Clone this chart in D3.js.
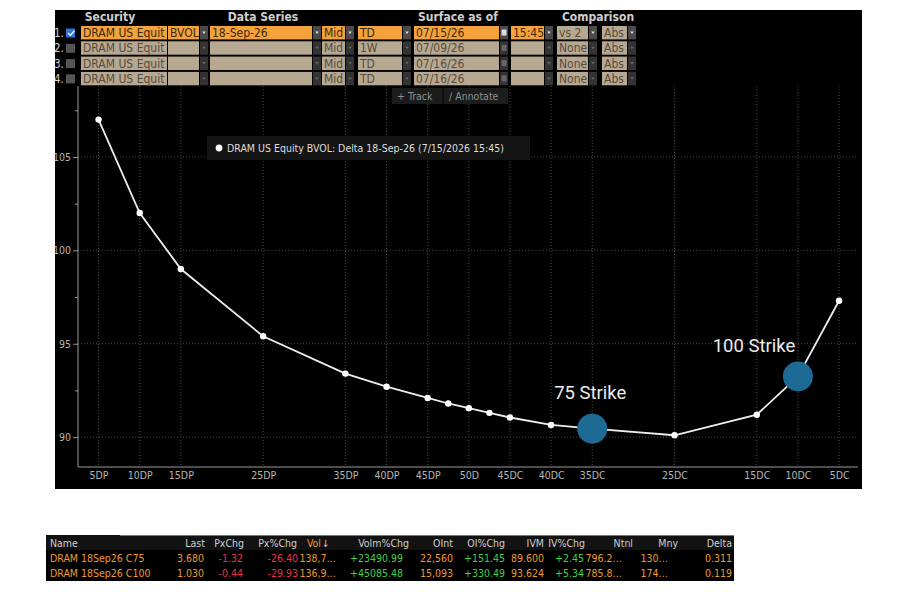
<!DOCTYPE html>
<html>
<head>
<meta charset="utf-8">
<script src="https://cdn.jsdelivr.net/npm/d3@7"></script>
<style>
body { margin: 0; background: #fff; }
svg text { font-family: "DejaVu Sans Condensed", "DejaVu Sans", sans-serif; font-stretch: condensed; }
</style>
</head>
<body>
<svg id="svg" width="900" height="594"></svg>
<script>
// ---- smile data (BVOL delta surface, 18-Sep-26 expiry)
const tickDeltas = [5, 10, 15, 25, 35, 40, 45, 50, 55, 60, 65, 75, 85, 90, 95];
const tickLabels = ["5DP", "10DP", "15DP", "25DP", "35DP", "40DP", "45DP", "50D", "45DC", "40DC", "35DC", "25DC", "15DC", "10DC", "5DC"];
const pointDeltas = [5, 10, 15, 25, 35, 40, 45, 47.5, 50, 52.5, 55, 60, 65, 75, 85, 90, 95];
const vols = [107.0, 102.0, 99.0, 95.4, 93.4, 92.7, 92.1, 91.8, 91.55, 91.3, 91.05, 90.65, 90.45, 90.1, 91.2, 93.25, 97.3];
const yMajor = [90, 95, 100, 105];
const yMinor = [92.5, 97.5, 102.5, 107.5];

const strikeNames = ["75 Strike", "100 Strike"];
const strikeDeltas = [65, 90];
const strikeVols = [90.45, 93.25];

const legendText = "DRAM US Equity BVOL: Delta 18-Sep-26 (7/15/2026 15:45)";

// ---- top control table
const headers = ["Security", "Data Series", "Surface as of", "Comparison"];
const secCol = ["DRAM US Equit", "DRAM US Equit", "DRAM US Equit", "DRAM US Equit"];
const fieldCol = ["BVOL", "", "", ""];
const expiryCol = ["18-Sep-26", "", "", ""];
const sideCol = ["Mid", "Mid", "Mid", "Mid"];
const periodCol = ["TD", "1W", "TD", "TD"];
const dateCol = ["07/15/26", "07/09/26", "07/16/26", "07/16/26"];
const timeCol = ["15:45", "", "", ""];
const compCol = ["vs 2", "None", "None", "None"];
const modeCol = ["Abs", "Abs", "Abs", "Abs"];

// ---- bottom option monitor
const optHeaders = ["Name", "Last", "PxChg", "Px%Chg", "Vol", "Volm%Chg", "OInt", "OI%Chg", "IVM", "IV%Chg", "Ntnl", "Mny", "Delta"];
const optNames = ["DRAM 18Sep26 C75", "DRAM 18Sep26 C100"];
const optLast = ["3.680", "1.030"];
const optPxChg = ["-1.32", "-0.44"];
const optPxPct = ["-26.40", "-29.93"];
const optVol = ["138,7\u2026", "136,9\u2026"];
const optVolmPct = ["+23490.99", "+45085.48"];
const optOInt = ["22,560", "15,093"];
const optOIPct = ["+151.45", "+330.49"];
const optIVM = ["89.600", "93.624"];
const optIVPct = ["+2.45", "+5.34"];
const optNtnl = ["796.2\u2026", "785.8\u2026"];
const optMny = ["130\u2026", "174\u2026"];
const optDelta = ["0.311", "0.119"];

var svg = d3.select("svg");
var orange = "#f5a23a", tan = "#b7a892", gridc = "#4a4a4a";

// black terminal panel
svg.append("defs").append("clipPath").attr("id", "panelclip")
  .append("rect").attr("x", 55).attr("y", 10).attr("width", 807).attr("height", 479);
svg.append("rect").attr("x", 55).attr("y", 10).attr("width", 807).attr("height", 479).attr("fill", "#000");
var panel = svg.append("g").attr("clip-path", "url(#panelclip)");

var pl = 78, pr = 858, pt = 86, pb = 467;
var x = d3.scaleLinear().domain([2.5, 97.3]).range([pl, pr]);
var y = d3.scaleLinear().domain([88.4, 108.8]).range([pb, pt]);

// grid
var grid = panel.append("g");
grid.selectAll(".vg").data(tickDeltas).join("line")
  .attr("x1", d => x(d)).attr("x2", d => x(d)).attr("y1", pt).attr("y2", pb)
  .attr("stroke", gridc).attr("stroke-dasharray", "1,2");
grid.selectAll(".hg").data(yMajor).join("line")
  .attr("x1", pl).attr("x2", pr).attr("y1", d => y(d)).attr("y2", d => y(d))
  .attr("stroke", gridc).attr("stroke-dasharray", "1,2");

// axes
panel.append("g").attr("transform", "translate(" + pl + ",0)")
  .call(d3.axisLeft(y).tickValues(yMajor).tickSize(5).tickPadding(2).tickFormat(d3.format("d")));
panel.append("g").attr("transform", "translate(" + pl + ",0)")
  .call(d3.axisLeft(y).tickValues(yMinor).tickSize(3).tickFormat(""));
panel.append("g").attr("transform", "translate(0," + pb + ")")
  .call(d3.axisBottom(x).tickValues(tickDeltas).tickSize(0).tickPadding(5).tickFormat((d, i) => tickLabels[i]));
panel.selectAll(".domain").remove();
panel.append("line").attr("x1", pl).attr("x2", pl).attr("y1", pt).attr("y2", pb).attr("stroke", "#9a9a9a");
panel.append("line").attr("x1", pl).attr("x2", pr).attr("y1", pb).attr("y2", pb).attr("stroke", "#9a9a9a");
panel.selectAll(".tick line").attr("stroke", "#9a9a9a");
panel.selectAll(".tick text").attr("fill", "#b5b5b5").style("font-size", "10.5px");

// the smile
var pts = pointDeltas.map((d, i) => [d, vols[i]]);
panel.append("path").datum(pts)
  .attr("d", d3.line().x(d => x(d[0])).y(d => y(d[1])))
  .attr("fill", "none").attr("stroke", "#eeeeee").attr("stroke-width", 1.8);
panel.selectAll(".pt").data(pts).join("circle")
  .attr("cx", d => x(d[0])).attr("cy", d => y(d[1])).attr("r", 3.2).attr("fill", "#fff");

// legend
var lg = panel.append("g");
lg.append("rect").attr("x", 207).attr("y", 136).attr("width", 323).attr("height", 24).attr("fill", "#141414");
lg.append("circle").attr("cx", 219).attr("cy", 148).attr("r", 3.4).attr("fill", "#fff");
lg.append("text").attr("x", 227).attr("y", 152).text(legendText)
  .attr("fill", "#dddddd").style("font-size", "10.5px");

// strike markers
var labelOff = [[-2, -30], [-44, -24]];
strikeNames.forEach((s, i) => {
  var cx = x(strikeDeltas[i]), cy = y(strikeVols[i]);
  panel.append("circle").attr("cx", cx).attr("cy", cy).attr("r", 15).attr("fill", "#1d6a94");
  panel.append("text").attr("x", cx + labelOff[i][0]).attr("y", cy + labelOff[i][1])
    .attr("text-anchor", "middle").text(s)
    .attr("fill", "#ececec")
    .style("font-family", "Roboto, 'Noto Sans', sans-serif").style("font-stretch", "normal")
    .style("font-size", "18.5px");
});

// ---- top control table
var hdrX = [110, 263, 458, 598];
headers.forEach((h, i) => {
  panel.append("text").attr("x", hdrX[i]).attr("y", 21).attr("text-anchor", "middle")
    .text(h).attr("fill", "#cfcfcf").style("font-size", "12px").style("font-weight", "bold");
});

var cells = [
  { vals: secCol, x0: 81, x1: 167, arrow: 0, hot: true },
  { vals: fieldCol, x0: 168, x1: 199, arrow: 1, hot: true },
  { vals: expiryCol, x0: 210, x1: 312, arrow: 1, hot: true },
  { vals: sideCol, x0: 322, x1: 345, arrow: 1, hot: true },
  { vals: periodCol, x0: 358, x1: 402, arrow: 1, hot: true },
  { vals: dateCol, x0: 414, x1: 499, arrow: 2, hot: true },
  { vals: timeCol, x0: 511, x1: 544, arrow: 1, hot: true },
  { vals: compCol, x0: 557, x1: 588, arrow: 1, hot: false },
  { vals: modeCol, x0: 602, x1: 627, arrow: 1, hot: false }
];
var rowY = [26, 41.3, 56.6, 71.9], rowH = 13.4;

rowY.forEach((ry, r) => {
  panel.append("text").attr("x", 54).attr("y", ry + 11).text((r + 1) + ".")
    .attr("fill", "#cfcfcf").style("font-size", "11.5px");
  panel.append("rect").attr("x", 66).attr("y", ry + 2.5).attr("width", 9).attr("height", 9)
    .attr("fill", r === 0 ? "#2f74d6" : "#555");
  if (r === 0) {
    panel.append("path").attr("d", "M68," + (ry + 7) + " l2.4,2.4 l4,-4.6")
      .attr("fill", "none").attr("stroke", "#fff").attr("stroke-width", 1.3);
  }
  cells.forEach(c => {
    var hot = r === 0 && c.hot;
    panel.append("rect").attr("x", c.x0).attr("y", ry).attr("width", c.x1 - c.x0).attr("height", rowH)
      .attr("fill", hot ? orange : tan);
    panel.append("text").attr("x", c.x0 + 2).attr("y", ry + 11).text(c.vals[r])
      .attr("fill", hot ? "#3a2a12" : "#574b3b").style("font-size", "12px");
    if (c.arrow) {
      var ax = c.x1 + 1;
      panel.append("rect").attr("x", ax).attr("y", ry).attr("width", 8).attr("height", rowH)
        .attr("fill", r === 0 ? "#4a4a4a" : "#333");
      if (c.arrow === 1) {
        panel.append("path").attr("d", "M" + (ax + 2.2) + "," + (ry + 5.5) + " h3.6 l-1.8,2.4 z")
          .attr("fill", r === 0 ? "#ddd" : "#666");
      } else {
        panel.append("rect").attr("x", ax + 1.5).attr("y", ry + 3.5).attr("width", 5).attr("height", 6)
          .attr("fill", r === 0 ? "#ddd" : "#666");
      }
    }
  });
});

// track / annotate
panel.append("rect").attr("x", 392).attr("y", 88).attr("width", 116).attr("height", 16).attr("fill", "#1c1c1c");
panel.append("line").attr("x1", 443).attr("x2", 443).attr("y1", 88).attr("y2", 104).attr("stroke", "#000");
panel.append("text").attr("x", 397).attr("y", 99.5).text("+  Track").attr("fill", "#8e8e8e").style("font-size", "10.5px");
panel.append("text").attr("x", 449).attr("y", 99.5).text("\u2215  Annotate").attr("fill", "#8e8e8e").style("font-size", "10.5px");

// ---- bottom option monitor
var red = "#e8334d", green = "#3fd04c", oc = "#ee9a2c";
var optCols = [
  { vals: optNames, hx: 50, vx: 50, a: "start", c: oc },
  { vals: optLast, hx: 205, vx: 204, a: "end", c: oc },
  { vals: optPxChg, hx: 244, vx: 243, a: "end", c: red },
  { vals: optPxPct, hx: 297, vx: 298, a: "end", c: red },
  { vals: optVol, hx: 321, vx: 336, a: "end", c: oc },
  { vals: optVolmPct, hx: 409, vx: 403, a: "end", c: green },
  { vals: optOInt, hx: 453, vx: 453, a: "end", c: oc },
  { vals: optOIPct, hx: 505, vx: 505, a: "end", c: green },
  { vals: optIVM, hx: 544, vx: 544, a: "end", c: oc },
  { vals: optIVPct, hx: 585, vx: 584, a: "end", c: green },
  { vals: optNtnl, hx: 633, vx: 622, a: "end", c: oc },
  { vals: optMny, hx: 678, vx: 668, a: "end", c: oc },
  { vals: optDelta, hx: 732, vx: 732, a: "end", c: oc }
];
svg.append("rect").attr("x", 46).attr("y", 535).attr("width", 688).attr("height", 46).attr("fill", "#000");
svg.append("rect").attr("x", 46).attr("y", 535).attr("width", 688).attr("height", 15).attr("fill", "#121212");
svg.append("line").attr("x1", 120).attr("x2", 734).attr("y1", 535.5).attr("y2", 535.5).attr("stroke", "#777");
optCols.forEach((c, i) => {
  svg.append("text").attr("x", c.hx).attr("y", 547).attr("text-anchor", c.a)
    .text(optHeaders[i]).attr("fill", i === 4 ? oc : "#cfcfcf").style("font-size", "10.5px");
  c.vals.forEach((v, r) => {
    svg.append("text").attr("x", c.vx).attr("y", 562 + r * 15).attr("text-anchor", c.a)
      .text(v).attr("fill", c.c).style("font-size", "10.5px");
  });
});
// sort arrow beside Vol
svg.append("text").attr("x", 322).attr("y", 547).text("\u2193").attr("fill", "#cfcfcf").style("font-size", "10px");
</script>
</body>
</html>
